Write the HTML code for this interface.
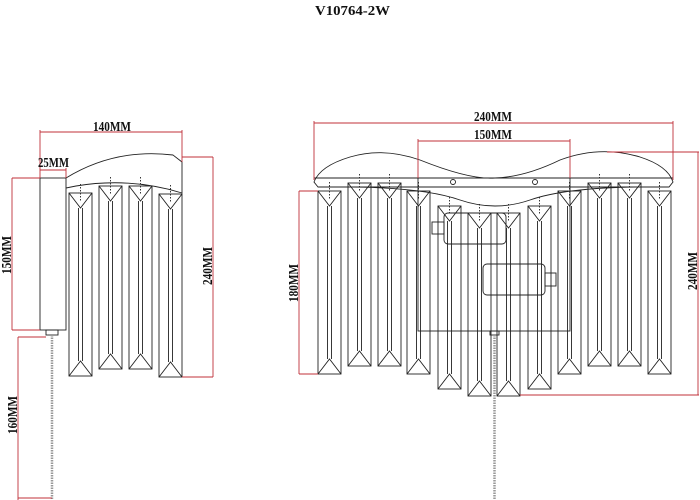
<!DOCTYPE html>
<html><head><meta charset="utf-8"><style>
html,body{margin:0;padding:0;background:#fff;width:700px;height:500px;overflow:hidden}
text{font-family:"Liberation Serif",serif;font-weight:bold;font-size:14px;fill:#111}
</style></head><body>
<svg width="700" height="500" viewBox="0 0 700 500" xmlns="http://www.w3.org/2000/svg">
<defs>
<g id="c" fill="none" stroke="#222" stroke-width="0.9">
<rect x="0" y="0" width="23" height="183"/>
<line x1="9.5" y1="15" x2="9.5" y2="168"/>
<line x1="13.5" y1="15" x2="13.5" y2="168"/>
<polyline points="0,0 11.5,15 23,0"/>
<polyline points="0,183 11.5,168 23,183"/>
<line x1="11.5" y1="-9" x2="11.5" y2="8" stroke-dasharray="1.5,1.5"/>
</g>
</defs>
<text x="315" y="15" textLength="75" lengthAdjust="spacingAndGlyphs" font-size="15">V10764-2W</text>

<!-- LEFT SIDE VIEW -->
<g fill="none" stroke="#222" stroke-width="0.9">
<rect x="40" y="178" width="26" height="152"/>
<path d="M66,178 Q115,148 173,155 L182,162 L182,193 Q130,177 76,186 L66,188"/>
<rect x="46" y="330" width="12" height="5"/>
<line x1="52" y1="335" x2="52" y2="500" stroke="#999" stroke-width="2.5" stroke-dasharray="1.5,1"/>
</g>
<use href="#c" x="69" y="193"/>
<use href="#c" x="99" y="186"/>
<use href="#c" x="129" y="186"/>
<use href="#c" x="159" y="194"/>
<g stroke="#c0303a" stroke-width="0.9" fill="none">
<line x1="40" y1="132" x2="182" y2="132"/><line x1="40" y1="130" x2="40" y2="178"/><line x1="182" y1="130" x2="182" y2="162"/>
<line x1="40" y1="170" x2="66" y2="170"/><line x1="66" y1="168" x2="66" y2="178"/>
<line x1="12" y1="178" x2="40" y2="178"/><line x1="12" y1="330" x2="40" y2="330"/><line x1="12" y1="178" x2="12" y2="330"/>
<line x1="182" y1="157" x2="213" y2="157"/><line x1="182" y1="377" x2="213" y2="377"/><line x1="213" y1="157" x2="213" y2="377"/>
<line x1="18" y1="337" x2="46" y2="337"/><line x1="18" y1="337" x2="18" y2="500"/><line x1="18" y1="498" x2="52" y2="498"/>
</g>
<text x="93" y="131" textLength="38" lengthAdjust="spacingAndGlyphs">140MM</text>
<text x="38" y="167" textLength="31" lengthAdjust="spacingAndGlyphs">25MM</text>
<text transform="translate(11,274) rotate(-90)" textLength="38" lengthAdjust="spacingAndGlyphs">150MM</text>
<text transform="translate(212,285) rotate(-90)" textLength="38" lengthAdjust="spacingAndGlyphs">240MM</text>
<text transform="translate(17,434) rotate(-90)" textLength="38" lengthAdjust="spacingAndGlyphs">160MM</text>

<!-- FRONT VIEW -->
<g fill="none" stroke="#222" stroke-width="0.9">
<path d="M318,187 L314,182 Q320,166 350,157 Q383,147 420,160 Q470,180 495,178 Q525,177 560,160 Q600,145 640,157 Q668,166 673,182 L669,187 Z"/>
<line x1="314" y1="178" x2="673" y2="178"/>
<path d="M330,187 Q420,186 460,200 Q495,212 530,200 Q570,186 660,187"/>
<circle cx="453" cy="182" r="2.5"/><circle cx="535" cy="182" r="2.5"/>
<rect x="418" y="178" width="152" height="153"/>
<rect x="444" y="213" width="62" height="31" rx="4"/>
<rect x="432" y="222" width="12" height="12"/>
<rect x="483" y="264" width="62" height="31" rx="4"/>
<rect x="545" y="273" width="11" height="13"/>
<rect x="490" y="331" width="9" height="4"/>
<line x1="494.5" y1="335" x2="494.5" y2="500" stroke="#999" stroke-width="2.5" stroke-dasharray="1.5,1"/>
</g>
<use href="#c" x="318" y="191"/>
<use href="#c" x="348" y="183"/>
<use href="#c" x="378" y="183"/>
<use href="#c" x="407" y="191"/>
<use href="#c" x="438" y="206"/>
<use href="#c" x="468" y="213"/>
<use href="#c" x="497" y="213"/>
<use href="#c" x="528" y="206"/>
<use href="#c" x="558" y="191"/>
<use href="#c" x="588" y="183"/>
<use href="#c" x="618" y="183"/>
<use href="#c" x="648" y="191"/>
<g stroke="#c0303a" stroke-width="0.9" fill="none">
<line x1="314" y1="123" x2="673" y2="123"/><line x1="314" y1="121" x2="314" y2="180"/><line x1="673" y1="121" x2="673" y2="180"/>
<line x1="418" y1="141" x2="570" y2="141"/><line x1="418" y1="139" x2="418" y2="178"/><line x1="570" y1="139" x2="570" y2="178"/>
<line x1="299" y1="191" x2="318" y2="191"/><line x1="299" y1="374" x2="318" y2="374"/><line x1="299" y1="191" x2="299" y2="374"/>
<line x1="607" y1="152" x2="699" y2="152"/><line x1="520" y1="395" x2="699" y2="395"/><line x1="698" y1="152" x2="698" y2="395"/>
</g>
<text x="474" y="121" textLength="38" lengthAdjust="spacingAndGlyphs">240MM</text>
<text x="474" y="139" textLength="38" lengthAdjust="spacingAndGlyphs">150MM</text>
<text transform="translate(298,302) rotate(-90)" textLength="38" lengthAdjust="spacingAndGlyphs">180MM</text>
<text transform="translate(697,290) rotate(-90)" textLength="38" lengthAdjust="spacingAndGlyphs">240MM</text>
</svg>
</body></html>
